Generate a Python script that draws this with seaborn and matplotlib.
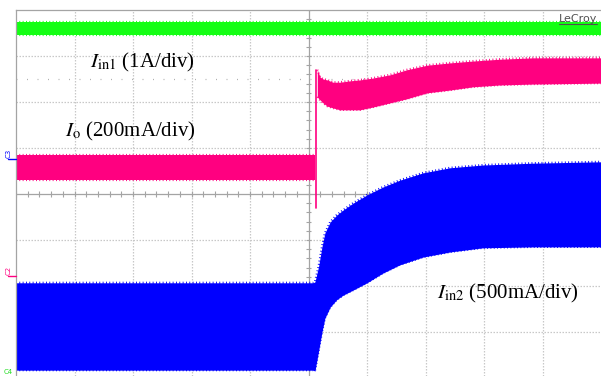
import numpy as np
import pandas as pd
import matplotlib
matplotlib.use("Agg")
import matplotlib.pyplot as plt
import seaborn as sns

# ---------------- data (time in divisions, amplitude in divisions) ----------
green_t = [0.0, 10.0]
green_hi = [3.74, 3.74]
green_lo = [3.46, 3.46]

io_pre_t = [0.0, 5.11]
io_pre_hi = [0.85, 0.85]
io_pre_lo = [0.30, 0.30]

io_step_t = [5.12, 5.12]
io_step_y = [-0.30, 2.70]

io_post_t = [5.15, 5.20, 5.25, 5.32, 5.42, 5.54, 5.71, 5.88, 6.10, 6.39, 6.68, 7.03, 7.42, 7.81, 8.27, 8.84, 10.0]
io_post_hi = [2.70, 2.54, 2.50, 2.48, 2.43, 2.43, 2.46, 2.48, 2.52, 2.59, 2.70, 2.80, 2.85, 2.89, 2.93, 2.96, 2.96]
io_post_lo = [2.11, 2.04, 1.98, 1.91, 1.87, 1.83, 1.83, 1.83, 1.89, 1.98, 2.07, 2.20, 2.26, 2.33, 2.37, 2.39, 2.41]

iin2_t = [0.0, 5.08, 5.11, 5.17, 5.23, 5.28, 5.37, 5.48, 5.59, 5.76, 6.00, 6.27, 6.56, 6.96, 7.42, 7.98, 8.84, 10.0]
iin2_hi = [-1.93, -1.93, -1.91, -1.59, -1.15, -0.85, -0.61, -0.46, -0.35, -0.20, -0.02, 0.15, 0.30, 0.46, 0.57, 0.63, 0.67, 0.70]
iin2_lo = [-3.83, -3.83, -3.85, -3.43, -3.00, -2.70, -2.46, -2.30, -2.20, -2.09, -1.93, -1.72, -1.54, -1.37, -1.26, -1.17, -1.15, -1.15]

cursor_level = 2.5

label_iin1 = r"$I_{\mathrm{in1}}$ (1A/div)"
label_io = r"$I_{\mathrm{o}}$ (200mA/div)"
label_iin2 = r"$I_{\mathrm{in2}}$ (500mA/div)"

GREEN = "#14ff14"
MAGENTA = "#ff0080"
BLUE = "#0000ff"
GRID = "#c8c8c8"
FRAME = "#a4a4a4"

# ---------------- figure ----------------
sns.set_style("white")
plt.rcParams["mathtext.fontset"] = "stix"

W, H = 601, 376
fig = plt.figure(figsize=(W / 100, H / 100), dpi=100)
ax = fig.add_axes([16 / W, 0, 585 / W, 366 / H])
ax.set_xlim(0, 10)
ax.set_ylim(4 - 366 / 46, 4)
ax.set_xticks([])
ax.set_yticks([])
for s in ["right", "bottom"]:
    ax.spines[s].set_visible(False)
for s in ["left", "top"]:
    ax.spines[s].set_color(FRAME)
    ax.spines[s].set_linewidth(0.9)

# grid
for gx in range(1, 10):
    if gx != 5:
        ax.axvline(gx, color=GRID, lw=0.9, ls=(0, (1.2, 1.2)), zorder=0)
for gy in range(-3, 4):
    if gy != 0:
        ax.axhline(gy, color=GRID, lw=0.9, ls=(0, (1.2, 1.2)), zorder=0)
# centre crosshair with minor ticks
ax.axhline(0, color=FRAME, lw=0.9, zorder=0)
ax.axvline(5, color=FRAME, lw=0.9, zorder=0)
ticks_x = np.arange(0, 10.01, 0.2)
ax.vlines(ticks_x, -0.06, 0.06, color=FRAME, lw=0.8, zorder=0)
ticks_y = np.arange(-4, 4.01, 0.2)
ax.hlines(ticks_y, 4.95, 5.05, color=FRAME, lw=0.8, zorder=0)
# sparse cursor line
ax.axhline(cursor_level, color="#b0b0b0", lw=0.9, ls=(0, (0.8, 7.6)), zorder=0)


def band(t, lo, hi, color):
    ax.fill_between(t, lo, hi, color=color, lw=0, zorder=2)
    for edge in (lo, hi):
        df = pd.DataFrame({"t": t, "y": edge})
        sns.lineplot(data=df, x="t", y="y", estimator=None, sort=False, color=color,
                     lw=1.6, ls=(0, (0.4, 1.1)), ax=ax, zorder=2)


band(green_t, green_lo, green_hi, GREEN)
band(io_pre_t, io_pre_lo, io_pre_hi, MAGENTA)
band(io_post_t, io_post_lo, io_post_hi, MAGENTA)
step_df = pd.DataFrame({"t": io_step_t, "y": io_step_y})
sns.lineplot(data=step_df, x="t", y="y", estimator=None, sort=False, color=MAGENTA, lw=1.2, ax=ax, zorder=3)
band(iin2_t, iin2_lo, iin2_hi, BLUE)
ax.set_xlabel("")
ax.set_ylabel("")

# labels
tkw = dict(fontsize=15, family="Liberation Serif", color="black", va="baseline", ha="left", zorder=5)
ax.text(1.265, 2.74, label_iin1, **tkw)
ax.text(0.838, 1.24, label_io, **tkw)
ax.text(7.197, -2.28, label_iin2, **tkw)

# LeCroy logo
fig.text(597 / W, 1 - 22 / H, "LeCroy", fontsize=8, color="#505050", ha="right", va="baseline",
         family="DejaVu Sans", zorder=6)
fig.add_artist(plt.Line2D([559 / W, 597 / W], [1 - 24 / H, 1 - 24 / H], color="#505050", lw=0.8))

# channel markers on the left margin
fig.text(9 / W, 1 - 153 / H, "C3", fontsize=5, color=BLUE, rotation=90, ha="center", va="center")
fig.add_artist(plt.Line2D([8 / W, 16 / W], [1 - 159 / H, 1 - 159 / H], color=BLUE, lw=1.0))
fig.text(9 / W, 1 - 270 / H, "C2", fontsize=5, color=MAGENTA, rotation=90, ha="center", va="center")
fig.add_artist(plt.Line2D([8 / W, 16 / W], [1 - 276 / H, 1 - 276 / H], color=MAGENTA, lw=1.0))
fig.text(8 / W, 1 - 372 / H, "C4", fontsize=5, color="#22dd22", ha="center", va="center")

fig.savefig("out.png", dpi=100)
